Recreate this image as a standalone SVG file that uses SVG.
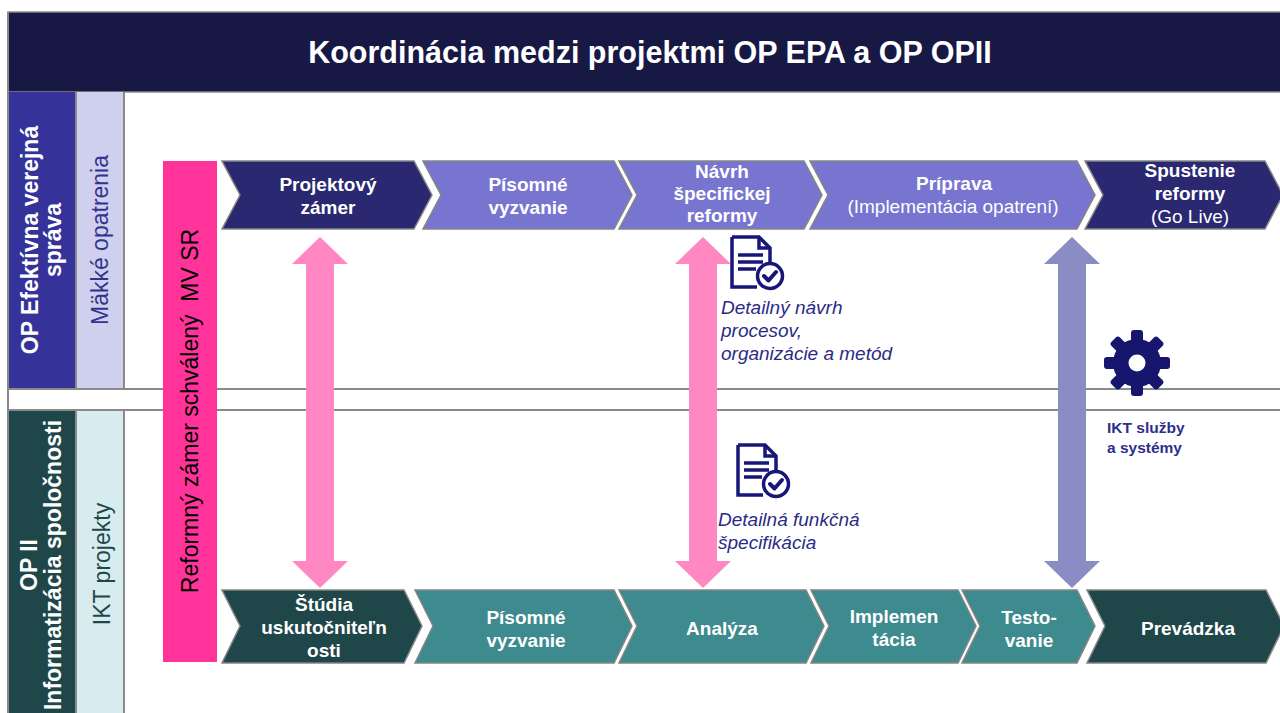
<svg xmlns="http://www.w3.org/2000/svg" width="1280" height="713" viewBox="0 0 1280 713">
<style>
text{font-family:"Liberation Sans",Arial,sans-serif}
.chv{stroke:#858585;stroke-width:1.5}
.dk{fill:#2A2870}
.pw{fill:#7775CF}
.tdk{fill:#1F474A}
.tl{fill:#3D8A8F}
.ct{fill:#fff;font-size:19px;text-anchor:middle}
.b{font-weight:bold}
.it{fill:#2B2B86;font-size:19px;font-style:italic}
.gl{stroke:#8a8a8a;stroke-width:2;fill:none}
.rot{font-size:23px;text-anchor:middle}
.ico{fill:none;stroke:#17177A;stroke-width:3.5}
</style>
<defs>
<g id="doc">
<path class="ico" d="M30,2 H22 M2,2 H29 L40,13 V30 M2,2 V52 H27" />
<path class="ico" d="M29,2 V13 H40" />
<path class="ico" d="M8,20 H33 M8,27 H33 M8,34 H26" />
<circle cx="40" cy="41" r="12.5" fill="#fff" stroke="#17177A" stroke-width="3.5"/>
<path d="M34,41 L38.5,45.5 L46,37" fill="none" stroke="#17177A" stroke-width="4" stroke-linecap="round" stroke-linejoin="round"/>
</g>
</defs>

<!-- frame and panels -->
<g id="frame">
<rect x="8" y="12" width="1280" height="80" fill="#181844" stroke="#8a8a8a" stroke-width="1.5"/>
<rect x="8" y="92" width="68" height="297" fill="#35339A"/>
<rect x="76" y="92" width="48" height="297" fill="#CFCFEE"/>
<rect x="8" y="410" width="68" height="310" fill="#1F474A"/>
<rect x="76" y="410" width="48" height="310" fill="#D7ECEE"/>
<path class="gl" d="M8,12 V713 M76,92 V389 M124,92 V389 M76,410 V713 M124,410 V713 M8,389 H1280 M8,410 H1280"/>
</g>

<g id="title">
<text x="650" y="63" fill="#fff" font-size="30.5" font-weight="bold" text-anchor="middle">Koordinácia medzi projektmi OP EPA a OP OPII</text>
</g>

<g id="label-epa">
<text class="rot b" fill="#fff" transform="translate(38,240) rotate(-90)">OP Efektívna verejná</text>
<text class="rot b" fill="#fff" transform="translate(61,240) rotate(-90)">správa</text>
</g>
<g id="label-makke">
<text class="rot" fill="#34328F" transform="translate(108,240) rotate(-90)">Mäkké opatrenia</text>
</g>
<g id="label-opii">
<text class="rot b" fill="#fff" transform="translate(37,565) rotate(-90)">OP II</text>
<text class="rot b" fill="#fff" transform="translate(61,565) rotate(-90)">Informatizácia spoločnosti</text>
</g>
<g id="label-ikt">
<text class="rot" fill="#1F474A" transform="translate(110,564) rotate(-90)">IKT projekty</text>
</g>

<g id="pink-bar">
<rect x="163" y="161" width="54" height="501" fill="#FF3399"/>
<text class="rot" fill="#000" xml:space="preserve" transform="translate(198,411) rotate(-90)">Reformný zámer schválený  MV SR</text>
</g>

<!-- top chevrons -->
<g id="top-1">
<polygon class="chv dk" points="222,161 414,161 432,195 414,229 222,229 240,195"/>
<text class="ct b" x="328" y="191">Projektový</text>
<text class="ct b" x="328" y="214">zámer</text>
</g>
<g id="top-2">
<polygon class="chv pw" points="423,161 614,161 632,195 614,229 423,229 441,195"/>
<text class="ct b" x="528" y="191">Písomné</text>
<text class="ct b" x="528" y="214">vyzvanie</text>
</g>
<g id="top-3">
<polygon class="chv pw" points="619,161 804,161 822,195 804,229 619,229 637,195"/>
<text class="ct b" x="722" y="178">Návrh</text>
<text class="ct b" x="722" y="200">špecifickej</text>
<text class="ct b" x="722" y="222">reformy</text>
</g>
<g id="top-4">
<polygon class="chv pw" points="810,161 1077,161 1095,195 1077,229 810,229 828,195"/>
<text class="ct b" x="954" y="190">Príprava</text>
<text class="ct" x="953" y="213">(Implementácia opatrení)</text>
</g>
<g id="top-5">
<polygon class="chv dk" points="1085,161 1265,161 1283,195 1265,229 1085,229 1103,195"/>
<text class="ct b" x="1190" y="177">Spustenie</text>
<text class="ct b" x="1190" y="200">reformy</text>
<text class="ct" x="1190" y="223">(Go Live)</text>
</g>

<!-- bottom chevrons -->
<g id="bot-1">
<polygon class="chv tdk" points="222,590 404,590 422,626 404,663 222,663 240,626"/>
<text class="ct b" x="324" y="611">Štúdia</text>
<text class="ct b" x="324" y="634">uskutočniteľn</text>
<text class="ct b" x="324" y="657">osti</text>
</g>
<g id="bot-2">
<polygon class="chv tl" points="415,590 614,590 632,626 614,663 415,663 433,626"/>
<text class="ct b" x="526" y="624">Písomné</text>
<text class="ct b" x="526" y="647">vyzvanie</text>
</g>
<g id="bot-3">
<polygon class="chv tl" points="619,590 806,590 824,626 806,663 619,663 637,626"/>
<text class="ct b" x="722" y="635">Analýza</text>
</g>
<g id="bot-4">
<polygon class="chv tl" points="811,590 958,590 976,626 958,663 811,663 829,626"/>
<text class="ct b" x="894" y="623">Implemen</text>
<text class="ct b" x="894" y="646">tácia</text>
</g>
<g id="bot-5">
<polygon class="chv tl" points="962,590 1077,590 1095,626 1077,663 962,663 980,626"/>
<text class="ct b" x="1029" y="624">Testo-</text>
<text class="ct b" x="1029" y="647">vanie</text>
</g>
<g id="bot-6">
<polygon class="chv tdk" points="1087,590 1266,590 1284,626 1266,663 1087,663 1105,626"/>
<text class="ct b" x="1188" y="635">Prevádzka</text>
</g>

<!-- connectors -->
<g id="connectors">
<polygon fill="#FF88C3" points="320,237 348,264 334,264 334,561 348,561 320,588 292,561 306,561 306,264 292,264"/>
<polygon fill="#FF88C3" points="703,237 731,264 717,264 717,561 731,561 703,588 675,561 689,561 689,264 675,264"/>
<polygon fill="#8C8CC4" points="1072,237 1100,264 1086,264 1086,561 1100,561 1072,588 1044,561 1058,561 1058,264 1044,264"/>
</g>

<g id="doc-1">
<use href="#doc" x="730" y="235"/>
<text class="it" x="721" y="314">Detailný návrh</text>
<text class="it" x="721" y="337">procesov,</text>
<text class="it" x="721" y="360">organizácie a metód</text>
</g>
<g id="doc-2">
<use href="#doc" x="736" y="443"/>
<text class="it" x="718" y="526">Detailná funkčná</text>
<text class="it" x="718" y="549">špecifikácia</text>
</g>

<g id="ikt-sluzby">
<g fill="#16166E" transform="translate(1137,363)">
<circle r="24"/>
<rect x="-6" y="-33" width="12" height="18" rx="3"/>
<rect x="-6" y="-33" width="12" height="18" rx="3" transform="rotate(45)"/>
<rect x="-6" y="-33" width="12" height="18" rx="3" transform="rotate(90)"/>
<rect x="-6" y="-33" width="12" height="18" rx="3" transform="rotate(135)"/>
<rect x="-6" y="-33" width="12" height="18" rx="3" transform="rotate(180)"/>
<rect x="-6" y="-33" width="12" height="18" rx="3" transform="rotate(225)"/>
<rect x="-6" y="-33" width="12" height="18" rx="3" transform="rotate(270)"/>
<rect x="-6" y="-33" width="12" height="18" rx="3" transform="rotate(315)"/>
<circle r="8.5" fill="#fff"/>
</g>
<text x="1107" y="433" fill="#2E2E8C" font-size="15.5" font-weight="bold">IKT služby</text>
<text x="1107" y="453" fill="#2E2E8C" font-size="15.5" font-weight="bold">a systémy</text>
</g>
</svg>
